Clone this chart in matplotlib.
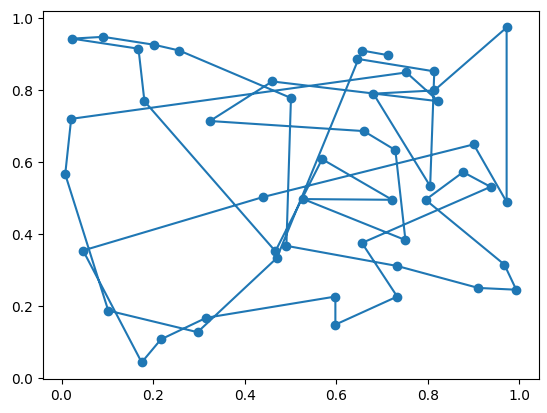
import numpy as np
import matplotlib
matplotlib.use("Agg")
import matplotlib.pyplot as plt

# points in the order they are visited by the line
x = [0.645, 0.814, 0.805, 0.681, 0.814, 0.972, 0.972, 0.900, 0.441, 0.047,
     0.175, 0.217, 0.316, 0.598, 0.598, 0.733, 0.656, 0.937, 0.877, 0.795,
     0.967, 0.993, 0.910, 0.733, 0.491, 0.501, 0.257, 0.202, 0.091, 0.023,
     0.168, 0.181, 0.467, 0.569, 0.722, 0.528, 0.751, 0.729, 0.660, 0.324,
     0.460, 0.823, 0.753, 0.021, 0.008, 0.102, 0.297, 0.470, 0.656, 0.713]
y = [0.888, 0.853, 0.534, 0.791, 0.800, 0.975, 0.490, 0.650, 0.504, 0.355,
     0.044, 0.108, 0.168, 0.227, 0.149, 0.227, 0.376, 0.532, 0.573, 0.496,
     0.316, 0.246, 0.251, 0.312, 0.368, 0.779, 0.911, 0.927, 0.949, 0.944,
     0.916, 0.770, 0.353, 0.609, 0.496, 0.498, 0.384, 0.634, 0.687, 0.715,
     0.825, 0.770, 0.850, 0.721, 0.567, 0.188, 0.128, 0.334, 0.911, 0.898]

fig = plt.figure(figsize=(5.47, 4.13), dpi=100)
plt.subplots_adjust(left=0.078, right=0.985, bottom=0.082, top=0.974)
plt.plot(x, y, "o-")
plt.savefig("out.png")
